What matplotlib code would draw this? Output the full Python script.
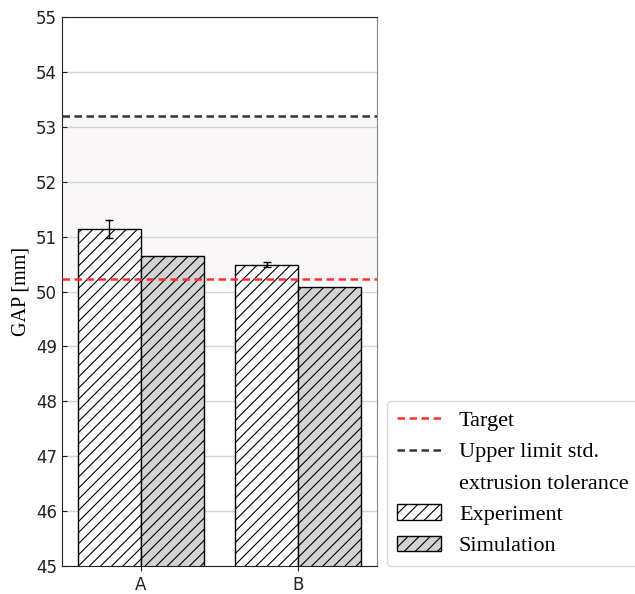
import matplotlib
matplotlib.use("Agg")
import matplotlib.pyplot as plt
import numpy as np
from matplotlib.patches import Patch
from matplotlib.lines import Line2D

categories = ["A", "B"]
experiment = [51.14, 50.49]
experiment_err = [0.16, 0.04]
simulation = [50.65, 50.08]
target = 50.22
upper_limit = 53.2

plt.rcParams["hatch.linewidth"] = 0.8

fig = plt.figure(figsize=(6.35, 5.94), dpi=100)
ax = fig.add_axes([0.0976, 0.0471, 0.4961, 0.9243])

x = np.arange(len(categories))
w = 0.4
ax.axhspan(target, upper_limit, color="#f9f6f7", zorder=0, lw=0)
ax.yaxis.grid(True, color="#d4d4d4", lw=1, zorder=0.5)
ax.set_axisbelow(True)

ax.bar(x - w / 2, experiment, w, color="white", edgecolor="black",
       hatch="///", lw=1, zorder=2)
ax.bar(x + w / 2, simulation, w, color="#d3d3d3", edgecolor="black",
       hatch="///", lw=1, zorder=2)
ax.errorbar(x - w / 2, experiment, yerr=experiment_err, fmt="none",
            ecolor="black", elinewidth=1, capsize=3, zorder=3)

ax.axhline(target, color="#ff3030", ls="--", lw=1.8, dashes=(3, 1.8), zorder=4)
ax.axhline(upper_limit, color="#333333", ls="--", lw=1.8, dashes=(3, 1.8), zorder=4)

ax.set_ylim(45, 55)
ax.set_xlim(-0.5, 1.5)
ax.set_yticks(range(45, 56))
ax.set_xticks(x)
ax.set_xticklabels(categories)
ax.tick_params(axis="both", labelsize=12, direction="in", colors="#222222")
ax.tick_params(axis="x", direction="out")
ax.set_ylabel("GAP [mm]", family="Liberation Serif", fontsize=14.5)
for s in ax.spines.values():
    s.set_color("#222222")
ax.spines["right"].set_color("#888888")

# the second line of the tolerance label gets its own row with no handle
handles = [
    Line2D([], [], color="#ff3030", ls="--", lw=1.8, dashes=(3, 1.8)),
    Line2D([], [], color="#333333", ls="--", lw=1.8, dashes=(3, 1.8)),
    Line2D([], [], color="none"),
    Patch(facecolor="white", edgecolor="black", hatch="///"),
    Patch(facecolor="#d3d3d3", edgecolor="black", hatch="///"),
]
labels = ["Target", "Upper limit std.", "extrusion tolerance", "Experiment", "Simulation"]
leg = fig.legend(handles, labels, loc="lower left", bbox_to_anchor=(0.609, 0.047),
                 prop={"family": "Liberation Serif", "size": 16}, frameon=True,
                 edgecolor="#cccccc", fancybox=True, handlelength=2.0,
                 handletextpad=0.8, labelspacing=0.48, borderpad=0.45,
                 borderaxespad=0.0)

fig.savefig("out.png", dpi=100)
